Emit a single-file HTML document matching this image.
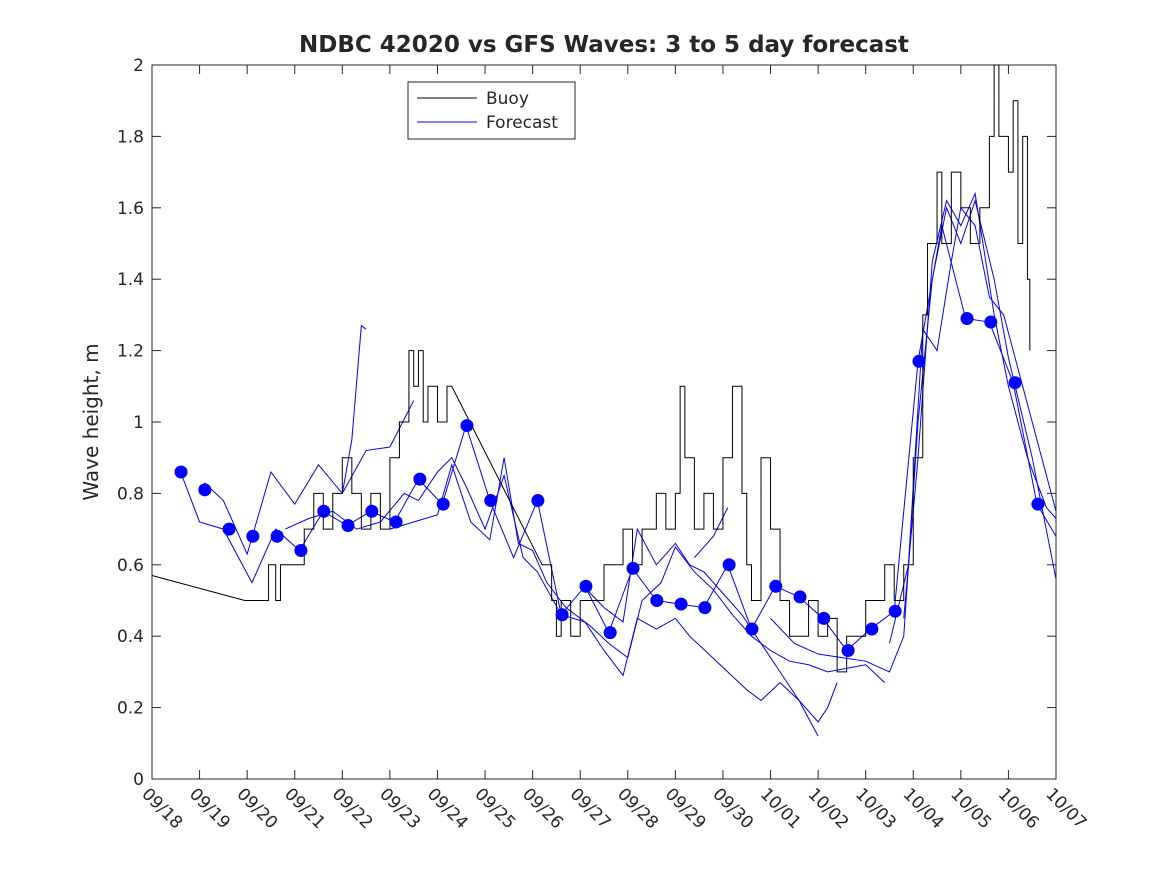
<!DOCTYPE html>
<html><head><meta charset="utf-8"><style>
body{margin:0;background:#fff}
svg text{font-family:"DejaVu Sans","Liberation Sans",sans-serif;fill:#262626}
</style></head><body>
<svg id="c" width="1167" height="875"></svg>
<script>
const dateLabels=["09/18","09/19","09/20","09/21","09/22","09/23","09/24","09/25","09/26","09/27","09/28","09/29","09/30","10/01","10/02","10/03","10/04","10/05","10/06","10/07"];
const yTicks=[0,0.2,0.4,0.6,0.8,1,1.2,1.4,1.6,1.8,2];
const buoy=[[0,0.57],[1.95,0.5],[2.4,0.5],[2.45,0.6],[2.6,0.5],[2.7,0.6],[3.0,0.6],[3.2,0.7],[3.4,0.8],[3.6,0.7],[3.8,0.8],[4.0,0.9],[4.2,0.8],[4.4,0.7],[4.6,0.8],[4.8,0.7],[5.0,0.9],[5.2,1.0],[5.4,1.2],[5.5,1.1],[5.6,1.2],[5.7,1.0],[5.8,1.1],[6.0,1.0],[6.2,1.1],[6.3,1.1],[8.2,0.6],[8.4,0.5],[8.5,0.4],[8.6,0.5],[8.8,0.4],[9.0,0.5],[9.5,0.6],[9.9,0.7],[10.0,0.7],[10.1,0.6],[10.3,0.7],[10.6,0.8],[10.8,0.7],[11.0,0.8],[11.1,1.1],[11.2,0.9],[11.4,0.7],[11.6,0.8],[11.8,0.7],[12.0,0.9],[12.2,1.1],[12.4,0.8],[12.5,0.6],[12.6,0.5],[12.8,0.9],[13.0,0.7],[13.2,0.5],[13.4,0.4],[13.6,0.4],[13.8,0.5],[14.0,0.4],[14.2,0.45],[14.4,0.3],[14.6,0.4],[14.8,0.4],[15.0,0.5],[15.2,0.5],[15.4,0.6],[15.6,0.5],[15.8,0.6],[16.0,0.9],[16.2,1.3],[16.3,1.5],[16.5,1.7],[16.6,1.5],[16.8,1.7],[17.0,1.6],[17.2,1.5],[17.4,1.6],[17.6,1.8],[17.7,2.0],[17.8,1.8],[18.0,1.7],[18.1,1.9],[18.2,1.5],[18.3,1.8],[18.4,1.4],[18.45,1.2]];
const fcA=[[0.6,0.86],[1.0,0.72],[1.5,0.7],[2.1,0.55],[2.6,0.7],[3.1,0.64],[3.6,0.75],[4.1,0.71],[4.6,0.75],[5.1,0.72],[5.6,0.84],[6.1,0.77],[6.6,0.99],[7.1,0.78],[7.6,0.62],[8.1,0.78],[8.6,0.46],[9.1,0.54],[9.6,0.41],[10.1,0.59],[10.6,0.5],[11.1,0.49],[11.6,0.48],[12.1,0.6],[12.6,0.42],[13.1,0.54],[13.6,0.51],[14.1,0.45],[14.6,0.36],[15.1,0.42],[15.6,0.47],[16.1,1.17],[16.6,1.55],[17.1,1.29],[17.6,1.28],[18.1,1.11],[18.6,0.77],[19,0.68]];
const fcB=[[1.1,0.83],[1.5,0.78],[2.0,0.63],[2.5,0.86],[3.0,0.77],[3.5,0.88],[4.0,0.8],[4.5,0.92],[5.0,0.93],[5.5,1.06]];
const fcSpike=[[4.0,0.8],[4.2,0.95],[4.4,1.27],[4.5,1.26]];
const fcC=[[2.8,0.7],[3.3,0.73],[3.8,0.75],[4.3,0.7],[4.8,0.72],[5.3,0.8],[5.6,0.78],[6.0,0.86],[6.3,0.9],[6.6,0.82],[7.0,0.7],[7.4,0.85],[7.8,0.62],[8.1,0.58],[8.6,0.46],[9.1,0.44],[9.5,0.36],[9.9,0.29],[10.2,0.45],[10.6,0.42],[11.0,0.45],[11.3,0.4],[11.7,0.35],[12.1,0.3],[12.5,0.25],[12.8,0.22],[13.2,0.27],[13.6,0.22],[14.0,0.16],[14.2,0.2],[14.4,0.27]];
const fcD=[[5.0,0.7],[5.5,0.72],[6.0,0.74],[6.3,0.88],[6.7,0.72],[7.1,0.67],[7.4,0.9],[7.7,0.66],[8.0,0.64],[8.3,0.55],[8.7,0.48],[9.2,0.43],[9.6,0.38],[10.0,0.34],[10.3,0.5],[10.7,0.55],[11.0,0.65],[11.4,0.58],[11.8,0.53],[12.2,0.46],[12.6,0.4],[13.0,0.36],[13.4,0.33],[13.8,0.32],[14.2,0.3],[14.6,0.31],[15.0,0.32],[15.4,0.27]];
const fcE=[[9.0,0.55],[9.5,0.48],[9.9,0.44],[10.2,0.7],[10.6,0.6],[11.0,0.66],[11.3,0.6],[11.6,0.58],[12.0,0.52],[12.4,0.46],[12.8,0.38],[13.2,0.3],[13.6,0.22],[14.0,0.12]];
const fcE2=[[11.4,0.62],[11.8,0.68],[12.1,0.76]];
const fcF=[[13.0,0.45],[13.5,0.38],[14.0,0.35],[14.5,0.34],[15.0,0.33],[15.5,0.3],[15.8,0.4],[16.1,1.0],[16.4,1.4],[16.7,1.6],[17.0,1.5],[17.3,1.62],[17.7,1.4],[18.0,1.18],[18.5,0.9],[19.0,0.56]];
const fcG=[[15.5,0.38],[15.9,0.6],[16.2,1.26],[16.5,1.2],[16.8,1.45],[17.0,1.6],[17.3,1.55],[17.6,1.35],[17.9,1.3],[18.2,1.15],[18.6,0.95],[19,0.75]];
const fcH=[[15.8,0.45],[16.1,0.9],[16.4,1.45],[16.7,1.62],[17.0,1.55],[17.3,1.64],[17.7,1.3],[18.0,1.1],[18.4,0.9],[18.8,0.76],[19,0.73]];
const dotDays=[0.61,1.11,1.62,2.12,2.63,3.13,3.61,4.12,4.62,5.13,5.63,6.12,6.62,7.12,8.11,8.62,9.12,9.63,10.11,10.61,11.12,11.62,12.13,12.61,13.11,13.62,14.12,14.63,15.13,15.62,16.12,17.13,17.63,18.14,18.62];
const dotVals=[0.86,0.81,0.70,0.68,0.68,0.64,0.75,0.71,0.75,0.72,0.84,0.77,0.99,0.78,0.78,0.46,0.54,0.41,0.59,0.50,0.49,0.48,0.60,0.42,0.54,0.51,0.45,0.36,0.42,0.47,1.17,1.29,1.28,1.11,0.77];

const L=152,R=1056,T=65,B=779;
const X=d=>L+(R-L)*d/19, Y=v=>B-(B-T)*v/2;
const NS="http://www.w3.org/2000/svg", svg=document.getElementById('c');
function mk(tag,at,par){const e=document.createElementNS(NS,tag);for(const k in at)e.setAttribute(k,at[k]);(par||svg).appendChild(e);return e;}
const bg=mk('rect',{x:L,y:T,width:R-L,height:B-T,fill:'#fff',stroke:'#262626','stroke-width':1});


yTicks.forEach(v=>{
  mk('line',{x1:L,x2:L+9,y1:Y(v),y2:Y(v),stroke:'#262626'});
  mk('line',{x1:R,x2:R-9,y1:Y(v),y2:Y(v),stroke:'#262626'});
  const t=mk('text',{x:L-8,y:Y(v)+6,'text-anchor':'end','font-size':17});t.textContent=String(v);
  
  
});
dateLabels.forEach((s,i)=>{
  const x=X(i);
  mk('line',{x1:x,x2:x,y1:B,y2:B-9,stroke:'#262626'});
  mk('line',{x1:x,x2:x,y1:T,y2:T+9,stroke:'#262626'});
  const tx=x-11,ty=B+16;
  const t=mk('text',{x:tx,y:ty,'font-size':17,transform:`rotate(45 ${tx} ${ty})`});t.textContent=s;
  
  
});
function line(pts,col,name){
  const p=mk('polyline',{points:pts.map(q=>X(q[0])+','+Y(q[1])).join(' '),fill:'none',stroke:col,'stroke-width':1});
  
  
}
[fcA,fcB,fcSpike,fcC,fcD,fcE,fcE2,fcF,fcG,fcH].forEach((f,i)=>line(f,'#0000ff','forecast-line-'+i));
let bp='M'+X(buoy[0][0])+','+Y(buoy[0][1]);
for(let i=1;i<buoy.length;i++){
  const [d,v]=buoy[i],[pd,pv]=buoy[i-1];
  if(d-pd>0.6){bp+=' L'+X(d)+','+Y(v);}
  else{bp+=' L'+X(d)+','+Y(pv)+' L'+X(d)+','+Y(v);}
}
const bpath=mk('path',{d:bp,fill:'none',stroke:'#000','stroke-width':1});


dotDays.forEach((d,i)=>{
  const c=mk('circle',{cx:X(d),cy:Y(dotVals[i]),r:6.5,fill:'#0000ff'});
  
  
});
const ti=mk('text',{x:604,y:52,'text-anchor':'middle','font-size':23,'font-weight':'bold',fill:'#000'});ti.textContent='NDBC 42020 vs GFS Waves: 3 to 5 day forecast';


const yl=mk('text',{x:98,y:422,'text-anchor':'middle','font-size':20,transform:'rotate(-90 98 422)'});yl.textContent='Wave height, m';


const lg=mk('g',{});


mk('rect',{x:408,y:82,width:167,height:57,fill:'#fff',stroke:'#262626'},lg);
mk('line',{x1:417,x2:477,y1:98,y2:98,stroke:'#000'},lg);
mk('line',{x1:417,x2:477,y1:122,y2:122,stroke:'#0000ff'},lg);
const a=mk('text',{x:486,y:104,'font-size':17},lg);a.textContent='Buoy';


const b=mk('text',{x:486,y:128,'font-size':17},lg);b.textContent='Forecast';


</script>
</body></html>
